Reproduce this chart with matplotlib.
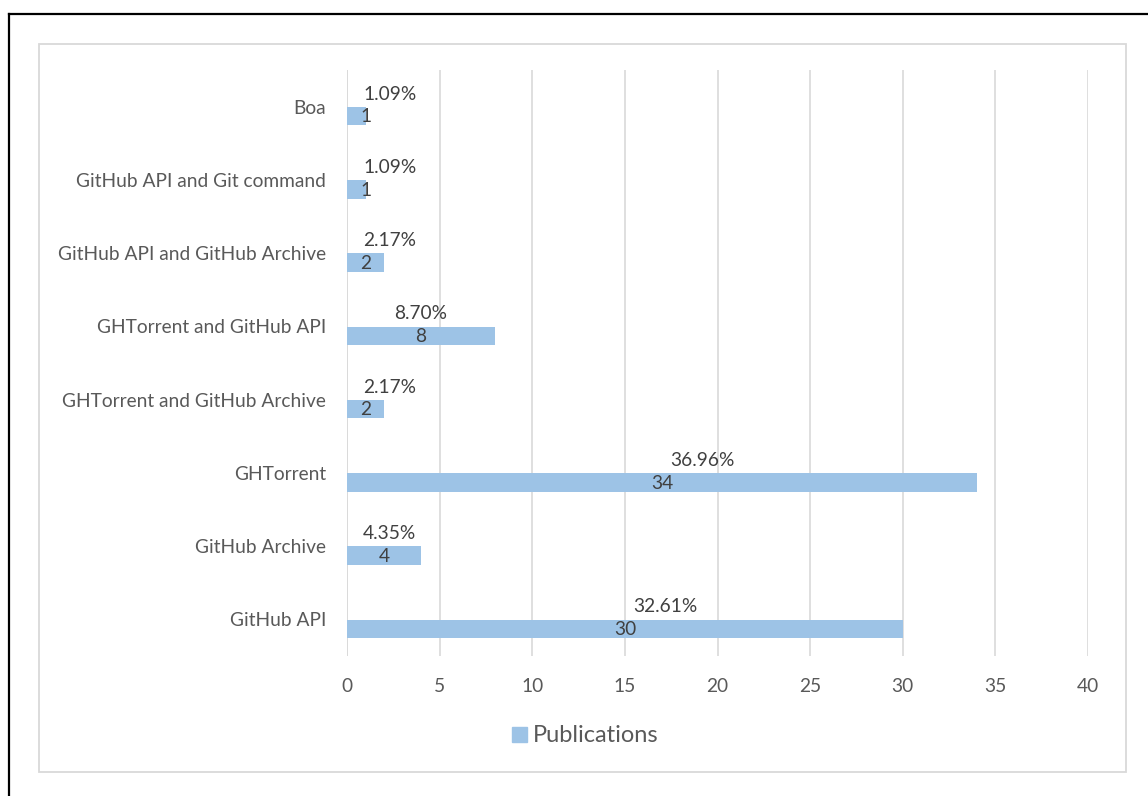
import matplotlib
matplotlib.use("Agg")
import matplotlib.pyplot as plt
from matplotlib.lines import Line2D
from matplotlib.patches import Rectangle

categories = ["GitHub API", "GitHub Archive", "GHTorrent", "GHTorrent and GitHub Archive",
              "GHTorrent and GitHub API", "GitHub API and GitHub Archive",
              "GitHub API and Git command", "Boa"]
publications = [30, 4, 34, 2, 8, 2, 1, 1]
percentages = ["32.61%", "4.35%", "36.96%", "2.17%", "8.70%", "2.17%", "1.09%", "1.09%"]
x_ticks = [0, 5, 10, 15, 20, 25, 30, 35, 40]

BAR = "#9DC3E6"
GRID = "#D9D9D9"
TICK = "#595959"
LABEL = "#404040"
FONT = "Lato"
FS = 13.8

fig = plt.figure(figsize=(11.48, 7.96), dpi=100)
fig.patch.set_facecolor("white")

# outer black frame (partly off-image) and inner grey chart border
fig.add_artist(Line2D([9/1148, 1.0], [1-14/796, 1-14/796], color="black", lw=1.6,
                      transform=fig.transFigure))
fig.add_artist(Line2D([9/1148, 9/1148], [0.0, 1-14/796], color="black", lw=1.6,
                      transform=fig.transFigure))
fig.add_artist(Rectangle((39/1148, 1-772/796), (1126-39)/1148, (772-44)/796,
                         transform=fig.transFigure, fill=False, edgecolor=GRID, lw=1.3))

ax = fig.add_axes([347/1148, 1-656/796, (1088-347)/1148, (656-70)/796])
ypos = list(range(len(categories)))
ax.barh([y - 0.13 for y in ypos], publications, height=0.25, color=BAR, zorder=2)

for y, v, p in zip(ypos, publications, percentages):
    ax.text(max(v / 2, 1.0), y - 0.14, str(v), ha="center", va="center",
            fontsize=FS, color=LABEL, family=FONT, zorder=3)
    px = max(v / 2, 2.3) + (2.2 if v > 10 else 0)
    ax.text(px, y + 0.17, p, ha="center", va="center",
            fontsize=FS, color=LABEL, family=FONT, zorder=3)

ax.set_xlim(0, 40)
ax.set_ylim(-0.5, len(categories) - 0.5)
ax.set_xticks(x_ticks)
ax.set_xticklabels([str(t) for t in x_ticks], fontsize=FS, color=TICK, family=FONT)
ax.set_yticks(ypos)
ax.set_yticklabels(categories, fontsize=FS, color=TICK, family=FONT)
ax.tick_params(axis="both", length=0)
ax.tick_params(axis="x", pad=16)
ax.tick_params(axis="y", pad=15)
ax.grid(axis="x", color=GRID, lw=1.2, zorder=0)
ax.set_axisbelow(True)
for s in ax.spines.values():
    s.set_visible(False)
ax.axvline(0, color=GRID, lw=1.2, zorder=1)

# legend
fig.add_artist(Rectangle((512/1148, 1-742/796), 15/1148, 15/796,
                         transform=fig.transFigure, color=BAR))
fig.text(533/1148, 1-735/796, "Publications", ha="left", va="center",
         fontsize=17, color=TICK, family=FONT)

fig.savefig("out.png", dpi=100)
